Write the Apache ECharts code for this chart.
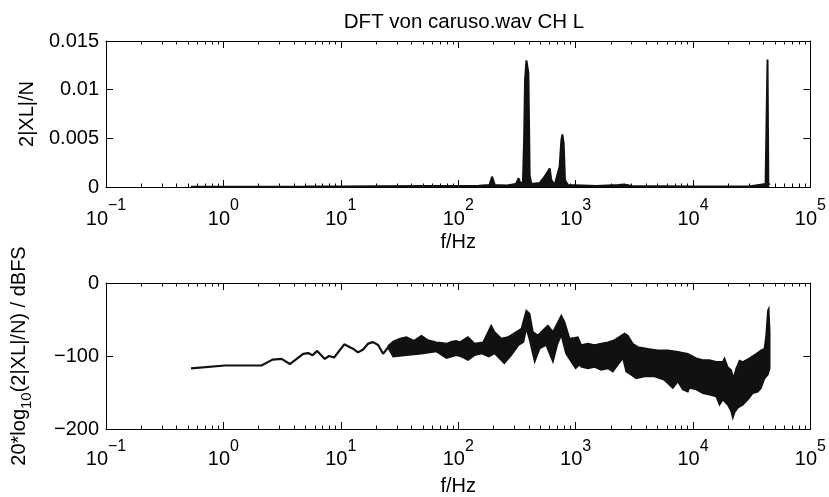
<!DOCTYPE html>
<html><head><meta charset="utf-8">
<script src="https://cdn.jsdelivr.net/npm/echarts@6/dist/echarts.min.js"></script>
<style>html,body{margin:0;padding:0;background:#fff}#c{width:829px;height:497px}</style>
</head><body><div id="c"></div>
<script>
// ---------- data ----------
const titleText = 'DFT von caruso.wav CH L';
const xDecades = [0.1, 1, 10, 100, 1000, 10000, 100000];
const xExponents = ['\u22121', '0', '1', '2', '3', '4', '5'];
const topYTicks = [0, 0.005, 0.01, 0.015];
const topYLabels = ['0', '0.005', '0.01', '0.015'];
const botYTicks = [-200, -100, 0];
const botYLabels = ['\u2212200', '\u2212100', '0'];

// top panel: linear magnitude 2|XL|/N
const topF = [0.53, 1, 2, 5, 10, 20, 50, 100, 150, 185, 194, 205, 260, 310, 327, 340, 356, 364, 371, 381, 388, 396, 401, 406, 420, 494, 546, 582, 601, 621, 663, 731, 756, 771, 791, 812, 861, 1500, 2300, 2600, 3000, 10000, 30000, 41500, 42800, 43100, 43500, 43800, 44800];
const topAmp = [0.00003, 0.00003, 0.00003, 0.00004, 0.00006, 0.00008, 0.0001, 0.0001, 0.00012, 0.0002, 0.00106, 0.0002, 0.00015, 0.0003, 0.0009, 0.0003, 0.00054, 0.0048, 0.011, 0.0130, 0.0132, 0.0117, 0.0065, 0.0012, 0.0003, 0.0004, 0.0011, 0.0016, 0.0019, 0.0007, 0.0002, 0.0021, 0.0048, 0.0054, 0.0045, 0.0007, 0.0002, 0.0001, 0.0002, 0.00025, 0.0001, 0.00005, 0.00005, 0.0003, 0.0004, 0.0131, 0.0132, 0.0004, 0.0002];

// bottom panel: low-frequency single trace (dBFS)
const lineF = [0.53, 1.03, 2.11, 2.62, 3.13, 3.68, 4.78, 5.27, 5.74, 6.29, 7.3, 7.94, 8.77, 10.7, 11.5, 12.7, 14.0, 15.5, 17.1, 18.8, 20.8, 22.9, 25.3];
const lineDb = [-117, -113, -113, -105, -104, -111, -97, -96, -99, -93, -104, -100, -102, -84, -86.5, -90, -95, -91, -83, -81, -85, -97, -88];

// bottom panel: dense band, upper envelope
const hiF = [25.3, 27.9, 32, 36.2, 42, 48.6, 55, 65.2, 72, 79.4, 88, 96.6, 103, 121, 138, 163, 191, 204, 233, 265, 312, 345, 380, 406, 433, 478, 544, 581, 641, 755, 806, 889, 980, 1046, 1117, 1271, 1449, 1651, 1882, 2144, 2443, 2611, 2786, 3072, 3388, 4121, 5012, 6095, 7413, 9036, 10640, 12110, 13800, 15740, 17940, 18530, 19780, 21130, 22090, 23280, 24870, 26540, 30270, 34440, 38020, 40550, 41880, 43350, 44160, 45060];
const hiDb = [-86, -80, -76, -74, -79, -72, -78, -81, -82, -83, -80, -79, -81, -74, -83, -81, -58, -67, -76, -74, -67, -62.5, -37.6, -42, -67, -71.6, -62.5, -58, -67, -44.4, -53.5, -76, -75, -74, -85, -83, -85, -83, -81, -78, -72, -69, -72, -83, -87.5, -90, -92, -92, -94, -97, -103, -105.6, -105.6, -108, -108, -103, -115, -119, -130, -117, -106, -108, -103, -97, -92, -90, -72, -38, -35, -67];
// lower envelope
const loF = [25.3, 27.9, 36.2, 48.6, 65.2, 79.4, 96.6, 107, 121, 138, 159, 182, 204, 247, 283, 327, 360, 380, 406, 448, 494, 560, 641, 703, 755, 826, 918, 1000, 1081, 1117, 1271, 1449, 1651, 1882, 2075, 2291, 2524, 2697, 2974, 3281, 3864, 4699, 5715, 6730, 7413, 8185, 9036, 9333, 10640, 12110, 13800, 15740, 16800, 17940, 19780, 21130, 21820, 22540, 24050, 26540, 29250, 32280, 35620, 38020, 40550, 43350, 45060];
const loDb = [-89, -101, -99, -97, -94, -103, -99, -101, -105.6, -99, -96.6, -101, -96.6, -110, -99, -85, -81, -62.5, -78.4, -108, -90, -85, -108, -83, -71.6, -96.6, -108, -117, -112, -115, -117, -115, -119, -117, -121.5, -112, -103, -121.5, -126, -130.6, -128, -128, -133, -144, -135, -146, -149, -144, -146, -151, -153, -155.5, -167, -160, -167, -176, -185, -178, -171, -167, -160, -151, -149, -144, -131, -126, -117];

// ---------- chart ----------
const FONT = "'Liberation Sans', Arial, Helvetica, sans-serif";
const FS = 20, FS_SUP = 16;
const INK = '#111';
const chart = echarts.init(document.getElementById('c'), null, {renderer: 'canvas'});

const mctx = document.createElement('canvas').getContext('2d');
function textW(t, size) { mctx.font = size + "px 'Liberation Sans', Arial, sans-serif"; return mctx.measureText(t).width; }

const minorVals = [];
for (let d = 0; d < xDecades.length - 1; d++) {
  for (let k = 2; k <= 9; k++) minorVals.push(+(xDecades[d] * k).toPrecision(6));
}

const baseW = textW('10', FS);
const baseRich = {}, expRich = {};
xExponents.forEach((e, i) => {
  baseRich['b' + i] = {fontFamily: FONT, fontSize: FS, color: '#000', padding: [0, textW(e, FS_SUP), 0, 0]};
  expRich['e' + i] = {fontFamily: FONT, fontSize: FS_SUP, color: '#000', padding: [0, 0, 0, baseW]};
});
function decIndex(v) { return xDecades.findIndex(d => Math.abs(d - v) / d < 1e-6); }

function xAxesFor(grid, nameGap, baseMargin, expMargin) {
  const base = {type: 'log', logBase: 10, gridIndex: grid, min: 0.1, max: 100000,
    splitLine: {show: false}, axisLine: {onZero: false, lineStyle: {color: '#000', width: 1}}};
  const hidden = {axisLine: {show: false, onZero: false}};
  return [
    Object.assign({}, base, {position: 'bottom',
      axisTick: {inside: true, length: 7, lineStyle: {color: '#000'}, customValues: xDecades},
      axisLabel: {customValues: xDecades, margin: baseMargin, rich: baseRich, hideOverlap: false,
        formatter: v => { const i = decIndex(v); return i < 0 ? '' : '{b' + i + '|10}'; }},
      name: 'f/Hz', nameLocation: 'middle', nameGap: nameGap,
      nameTextStyle: {fontFamily: FONT, fontSize: FS, color: '#000'}}),
    Object.assign({}, base, hidden, {position: 'bottom',
      axisTick: {show: false},
      axisLabel: {customValues: xDecades, margin: expMargin, rich: expRich, hideOverlap: false,
        formatter: v => { const i = decIndex(v); return i < 0 ? '' : '{e' + i + '|' + xExponents[i] + '}'; }}}),
    Object.assign({}, base, {position: 'top',
      axisTick: {inside: true, length: 7, lineStyle: {color: '#000'}, customValues: xDecades},
      axisLabel: {show: false}}),
    Object.assign({}, base, hidden, {position: 'bottom',
      axisTick: {inside: true, length: 3.5, lineStyle: {color: '#000'}, customValues: minorVals},
      axisLabel: {show: false}}),
    Object.assign({}, base, hidden, {position: 'top',
      axisTick: {inside: true, length: 3.5, lineStyle: {color: '#000'}, customValues: minorVals},
      axisLabel: {show: false}})
  ];
}

function yAxesFor(grid, min, max, ticks, labels, name, nameGap, rich) {
  const base = {type: 'value', gridIndex: grid, min: min, max: max, splitLine: {show: false},
    axisLine: {show: true, onZero: false, lineStyle: {color: '#000', width: 1}}};
  return [
    Object.assign({}, base, {position: 'left',
      axisTick: {show: true, inside: true, length: 7, lineStyle: {color: '#000'}, customValues: ticks},
      axisLabel: {customValues: ticks, margin: 7, fontFamily: FONT, fontSize: FS, color: '#000',
        formatter: v => { const i = ticks.findIndex(t => Math.abs(t - v) < 1e-9); return i < 0 ? '' : labels[i]; }},
      name: name, nameLocation: 'middle', nameGap: nameGap, nameRotate: 90,
      nameTextStyle: Object.assign({fontFamily: FONT, fontSize: FS, color: '#000'}, rich ? {rich: rich} : {})}),
    Object.assign({}, base, {position: 'right',
      axisTick: {show: true, inside: true, length: 7, lineStyle: {color: '#000'}, customValues: ticks},
      axisLabel: {show: false}})
  ];
}

const subRich = {
  n: {fontFamily: FONT, fontSize: FS, color: '#000'},
  sub: {fontFamily: FONT, fontSize: 15, color: '#000', padding: [14, 0, 0, 0]}
};

const option = {
  animation: false,
  backgroundColor: '#fff',
  title: {text: titleText, left: 459, top: 7, textAlign: 'center',
    textStyle: {fontFamily: FONT, fontSize: 20.5, fontWeight: 'normal', color: '#000'}},
  grid: [
    {left: 106, width: 705, top: 41, height: 146},
    {left: 106, width: 705, top: 283, height: 147}
  ],
  xAxis: xAxesFor(0, 45, 22, 11).concat(xAxesFor(1, 47, 20, 10)),
  yAxis: yAxesFor(0, 0, 0.015, topYTicks, topYLabels, '2|XL|/N', 69, null)
    .concat(yAxesFor(1, -200, 0, botYTicks, botYLabels,
      '{n|20*log}{sub|10}{n|(2|XL|/N) / dBFS}', 72, subRich)),
  series: [
    {type: 'line', xAxisIndex: 0, yAxisIndex: 0, showSymbol: false, symbol: 'none',
      data: topF.map((f, i) => [f, topAmp[i]]),
      lineStyle: {color: INK, width: 2}, areaStyle: {color: INK, opacity: 1}, z: 3},
    {type: 'line', xAxisIndex: 5, yAxisIndex: 2, showSymbol: false, symbol: 'none',
      data: lineF.map((f, i) => [f, lineDb[i]]),
      lineStyle: {color: INK, width: 2.2}, z: 3},
    {type: 'custom', xAxisIndex: 5, yAxisIndex: 2, z: 3,
      data: [[hiF[0], hiDb[0]]],
      renderItem: function (params, api) {
        const pts = [];
        for (let i = 0; i < hiF.length; i++) pts.push(api.coord([hiF[i], hiDb[i]]));
        for (let i = loF.length - 1; i >= 0; i--) pts.push(api.coord([loF[i], loDb[i]]));
        return {type: 'polygon', shape: {points: pts},
          style: {fill: INK, stroke: INK, lineWidth: 1.5, lineJoin: 'miter'}};
      }}
  ]
};
chart.setOption(option);
</script></body></html>
